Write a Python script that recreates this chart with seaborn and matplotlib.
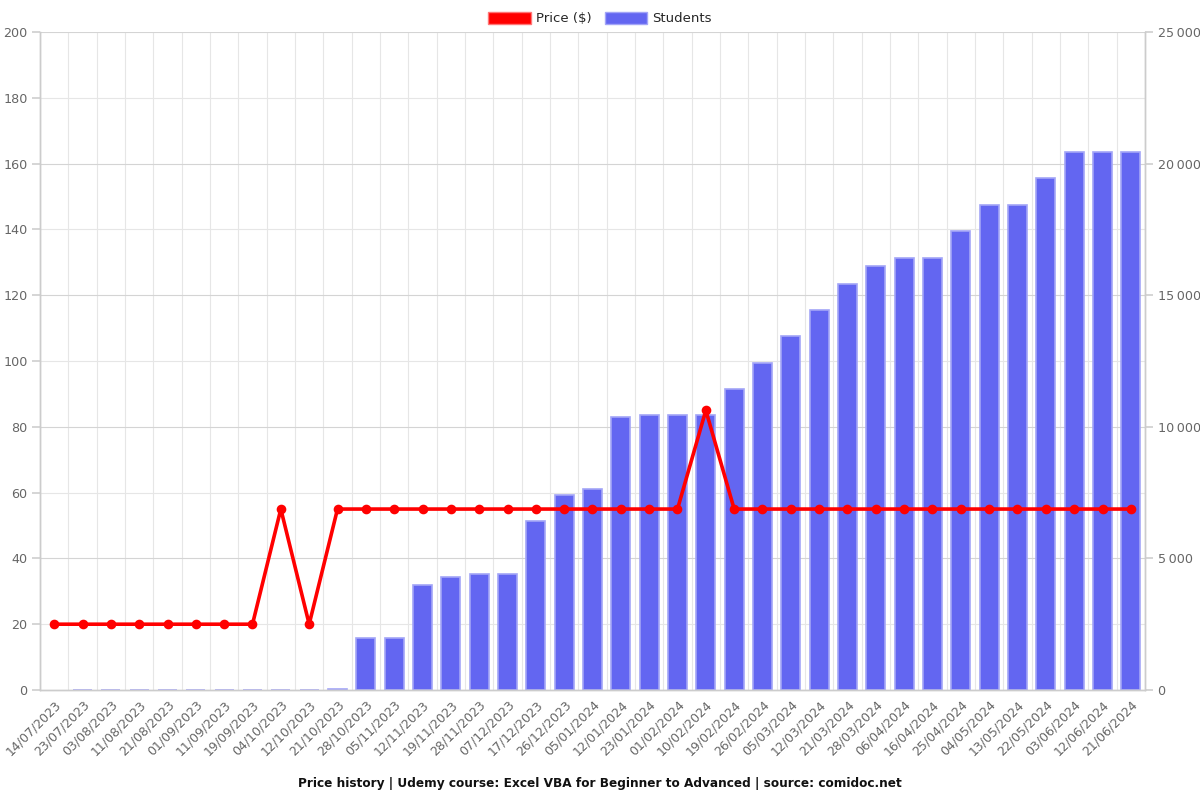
import numpy as np
import pandas as pd
import matplotlib
matplotlib.use("Agg")
import matplotlib.pyplot as plt
from matplotlib.patches import Patch
from matplotlib.ticker import FuncFormatter, MultipleLocator, FixedLocator
import seaborn as sns

dates = ["14/07/2023", "23/07/2023", "03/08/2023", "11/08/2023", "21/08/2023", "01/09/2023",
         "11/09/2023", "19/09/2023", "04/10/2023", "12/10/2023", "21/10/2023", "28/10/2023",
         "05/11/2023", "12/11/2023", "19/11/2023", "28/11/2023", "07/12/2023", "17/12/2023",
         "26/12/2023", "05/01/2024", "12/01/2024", "23/01/2024", "01/02/2024", "10/02/2024",
         "19/02/2024", "26/02/2024", "05/03/2024", "12/03/2024", "21/03/2024", "28/03/2024",
         "06/04/2024", "16/04/2024", "25/04/2024", "04/05/2024", "13/05/2024", "22/05/2024",
         "03/06/2024", "12/06/2024", "21/06/2024"]

prices = [20, 20, 20, 20, 20, 20, 20, 20, 55, 20, 55, 55,
          55, 55, 55, 55, 55, 55, 55, 55, 55, 55, 55, 85,
          55, 55, 55, 55, 55, 55, 55, 55, 55, 55, 55, 55,
          55, 55, 55]

students = [np.nan, 0, 0, 0, 0, 0, 0, 0, 0, 0, 40, 1980,
            1980, 3990, 4290, 4400, 4400, 6420, 7410, 7640, 10370, 10450, 10450, 10450,
            11440, 12420, 13450, 14440, 15430, 16110, 16420, 16420, 17440, 18430, 18430, 19450,
            20450, 20450, 20450]

title = "Price history | Udemy course: Excel VBA for Beginner to Advanced | source: comidoc.net"

df = pd.DataFrame({"date": dates, "price": prices, "students": students})

sns.set_theme(style="white")
plt.rcParams["font.family"] = ["DejaVu Sans"]

fig = plt.figure(figsize=(12, 8), dpi=100)
ax = fig.add_axes([40 / 1200, 1 - 690 / 800, (1145 - 40) / 1200, (690 - 32) / 800])
axb = ax.twinx()

bar_color = "#6366f1"
edge_color = "#a3a5f7"
grid_color = "#e6e6e6"
tick_color = "#666666"
fs_x = 9.0
fs_y = 9.2

sns.barplot(data=df, x="date", y="students", order=dates, ax=axb, color=bar_color,
            width=0.68, edgecolor=edge_color, linewidth=1.2, saturation=1, zorder=2)
sns.pointplot(data=df, x="date", y="price", order=dates, ax=ax, color="#ff0000",
              markers="o", markersize=5, linewidth=2.6)

ax.set_zorder(axb.get_zorder() + 1)
ax.patch.set_visible(False)
axb.patch.set_visible(True)
axb.patch.set_facecolor("white")

n = len(dates)
for a in (ax, axb):
    a.set_xlim(-0.5, n - 0.5)
ax.set_ylim(0, 200)
axb.set_ylim(0, 25000)

ax.yaxis.set_major_locator(MultipleLocator(20))
axb.yaxis.set_major_locator(MultipleLocator(5000))
axb.yaxis.set_major_formatter(FuncFormatter(lambda v, p: f"{int(v):,}".replace(",", "\u2009")))

ax.xaxis.set_major_locator(FixedLocator(list(range(n))))
ax.set_xticklabels(dates, rotation=45, ha="right", rotation_mode="anchor", fontsize=fs_x, color=tick_color)
ax.xaxis.set_minor_locator(FixedLocator(np.arange(-0.5, n, 1.0)))
ax.tick_params(axis="x", which="major", length=0, pad=6)
ax.tick_params(axis="x", which="minor", length=5, color="#d0d0d0", width=1)
ax.tick_params(axis="y", length=6, color="#d0d0d0", labelsize=fs_y, labelcolor=tick_color, pad=3)
axb.tick_params(axis="y", length=6, color="#d0d0d0", labelsize=fs_y, labelcolor=tick_color, pad=3)

ax.set_xlabel("")
ax.set_ylabel("")
axb.set_xlabel("")
axb.set_ylabel("")

# grids drawn on the bar axes, below the bars
for xb in np.arange(-0.5, n, 1.0):
    axb.axvline(xb, color=grid_color, linewidth=0.8, zorder=0)
for v in np.arange(20, 201, 20):
    c = "#d4d4d4" if v % 40 == 0 else grid_color
    axb.axhline(v * 125, color=c, linewidth=0.8, zorder=0)

for a in (ax, axb):
    a.spines["top"].set_visible(False)
    for s in ["left", "right", "bottom"]:
        a.spines[s].set_color("#cccccc")
        a.spines[s].set_linewidth(1)

legend_handles = [Patch(facecolor="#ff0000", edgecolor="#ff7777", label="Price ($)"),
                  Patch(facecolor=bar_color, edgecolor=edge_color, label="Students")]
fig.legend(handles=legend_handles, loc="upper center", bbox_to_anchor=(0.5, 1.0), ncol=2,
           frameon=False, fontsize=9.5, handlelength=3.2, handleheight=1.0, columnspacing=1.0,
           handletextpad=0.4, borderaxespad=0.5)

fig.text(0.5, 1 - 783 / 800, title, ha="center", va="center", fontsize=8.7, fontweight="bold",
         color="#111111")

fig.savefig("out.png", dpi=100)
